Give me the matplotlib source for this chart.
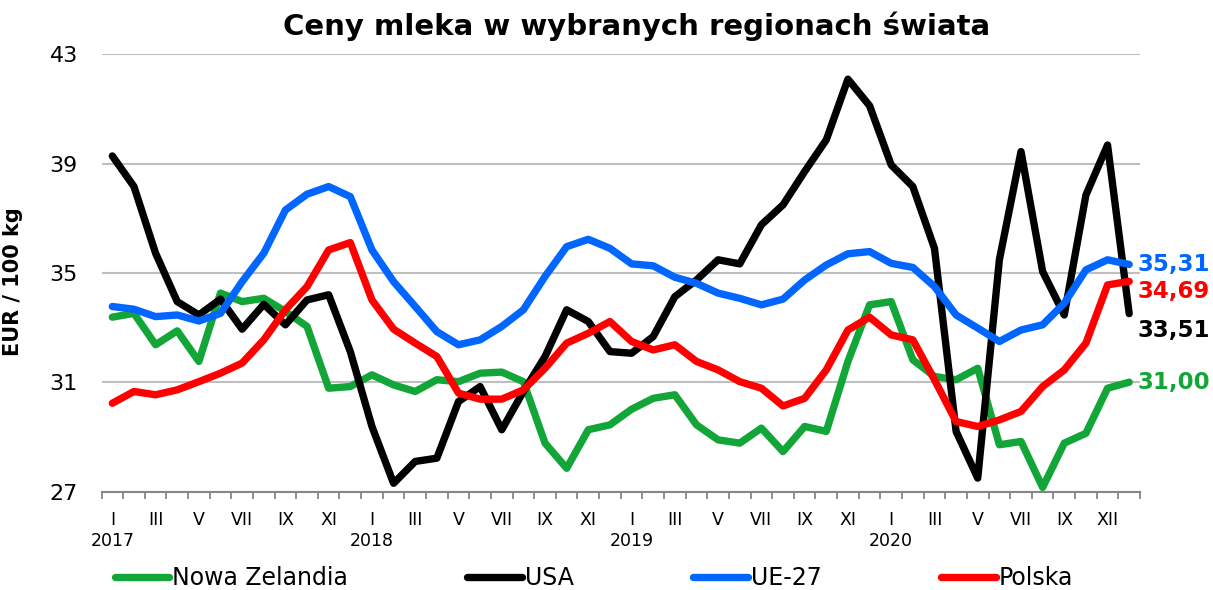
import matplotlib
matplotlib.use("Agg")
import matplotlib.pyplot as plt
import numpy as np

# Ceny mleka 2017-I .. 2020-XII (EUR/100 kg)
miesiace = ["I", "", "III", "", "V", "", "VII", "", "IX", "", "XI", ""]
lata = ["2017", "2018", "2019", "2020"]

nowa_zelandia = [33.38, 33.52, 32.37, 32.88, 31.76, 34.26, 33.95, 34.07, 33.59, 33.04, 30.78, 30.84,
                 31.27, 30.90, 30.66, 31.09, 31.02, 31.33, 31.37, 31.02, 28.77, 27.85, 29.26, 29.44,
                 30.01, 30.41, 30.54, 29.44, 28.89, 28.77, 29.32, 28.46, 29.38, 29.20, 31.76, 33.83,
                 33.95, 31.82, 31.21, 31.09, 31.51, 28.71, 28.83, 27.15, 28.77, 29.13, 30.78, 31.00]
usa = [39.28, 38.16, 35.72, 33.95, 33.46, 34.04, 32.94, 33.85, 33.10, 34.01, 34.20, 32.12,
       29.38, 27.30, 28.10, 28.22, 30.29, 30.84, 29.26, 30.66, 31.94, 33.65, 33.22, 32.12,
       32.06, 32.67, 34.13, 34.74, 35.48, 35.33, 36.76, 37.49, 38.71, 39.87, 42.09, 41.12,
       38.95, 38.16, 35.90, 29.20, 27.49, 35.48, 39.44, 35.05, 33.46, 37.85, 39.68, 33.51]
ue27 = [33.77, 33.67, 33.40, 33.46, 33.24, 33.52, 34.68, 35.72, 37.30, 37.88, 38.16, 37.79,
        35.84, 34.68, 33.77, 32.85, 32.37, 32.55, 33.04, 33.65, 34.87, 35.96, 36.23, 35.90,
        35.33, 35.26, 34.84, 34.62, 34.26, 34.07, 33.83, 34.04, 34.74, 35.29, 35.70, 35.78,
        35.35, 35.20, 34.50, 33.46, 32.98, 32.49, 32.91, 33.10, 33.89, 35.11, 35.48, 35.31]
polska = [30.23, 30.66, 30.54, 30.72, 31.02, 31.33, 31.70, 32.55, 33.65, 34.50, 35.84, 36.11,
          34.01, 32.94, 32.43, 31.94, 30.60, 30.38, 30.38, 30.72, 31.51, 32.43, 32.79, 33.22,
          32.49, 32.18, 32.37, 31.76, 31.45, 31.02, 30.78, 30.13, 30.41, 31.45, 32.91, 33.38,
          32.73, 32.55, 31.09, 29.56, 29.38, 29.62, 29.93, 30.84, 31.45, 32.43, 34.56, 34.69]

serie = [("Nowa Zelandia", nowa_zelandia, "#12A537", 0),
         ("USA", usa, "#000000", -12),
         ("UE-27", ue27, "#0066FF", 0),
         ("Polska", polska, "#FF0000", -7)]

# etykiety osi X: co drugi miesiąc, rok pod styczniem (ostatnia etykieta "XII" jak w oryginale)
etykiety = []
for r, rok in enumerate(lata):
    for m, nazwa in enumerate(miesiace):
        if m == 0:
            etykiety.append(nazwa + "\n" + rok)
        else:
            etykiety.append(nazwa)
etykiety[46] = "XII"

plt.rcParams['font.family'] = ['DejaVu Sans']

fig = plt.figure(figsize=(12.13, 5.90), dpi=100)
ax = fig.add_axes([101.5 / 1213, 98.5 / 590, (1140 - 101.5) / 1213, (491.5 - 54.3) / 590])

x = np.arange(len(usa))
uchwyty = []
for nazwa, dane, kolor, dy in serie:
    ln, = ax.plot(x, dane, color=kolor, lw=5.3, solid_capstyle='round',
                  solid_joinstyle='round', label=nazwa, zorder=3)
    uchwyty.append(ln)
    ax.annotate(f"{dane[-1]:.2f}".replace(".", ","), xy=(x[-1], dane[-1]),
                xytext=(6, dy), textcoords='offset points', va='center', ha='left',
                color=kolor, fontsize=16.5, fontweight='bold', annotation_clip=False)

ax.set_xlim(-0.5, len(usa) - 0.5)
ax.set_ylim(27, 43)
ax.set_yticks([27, 31, 35, 39, 43])
ax.yaxis.grid(True, color='#BFBFBF', lw=1.5)
ax.set_axisbelow(True)
ax.tick_params(axis='y', length=0, labelsize=16, pad=17)

ax.set_xticks(x[::2])
ax.set_xticklabels(etykiety[::2], fontsize=12.5, linespacing=1.25)
ax.set_xticks(np.arange(-0.5, len(usa)), minor=True)
ax.tick_params(axis='x', which='major', length=0, pad=14)
ax.tick_params(axis='x', which='minor', length=5, width=1.3, color='#868686')

for s in ['left', 'right', 'top']:
    ax.spines[s].set_visible(False)
ax.spines['bottom'].set_color('#868686')
ax.spines['bottom'].set_linewidth(1.5)

ax.set_ylabel("EUR / 100 kg", fontsize=15, fontweight='bold')
ax.yaxis.set_label_coords(-0.0756, 0.48)

fig.text(637 / 1213, 1 - 26 / 590, "Ceny mleka w wybranych regionach świata",
         ha='center', va='center', fontsize=21, fontweight='bold')

fig.legend(handles=uchwyty, loc='center', bbox_to_anchor=(594 / 1213, 12 / 590), ncol=4,
           frameon=False, fontsize=17, handlelength=2.3, handletextpad=0.15,
           columnspacing=5.05, borderaxespad=0)

fig.savefig("out.png", dpi=100)
